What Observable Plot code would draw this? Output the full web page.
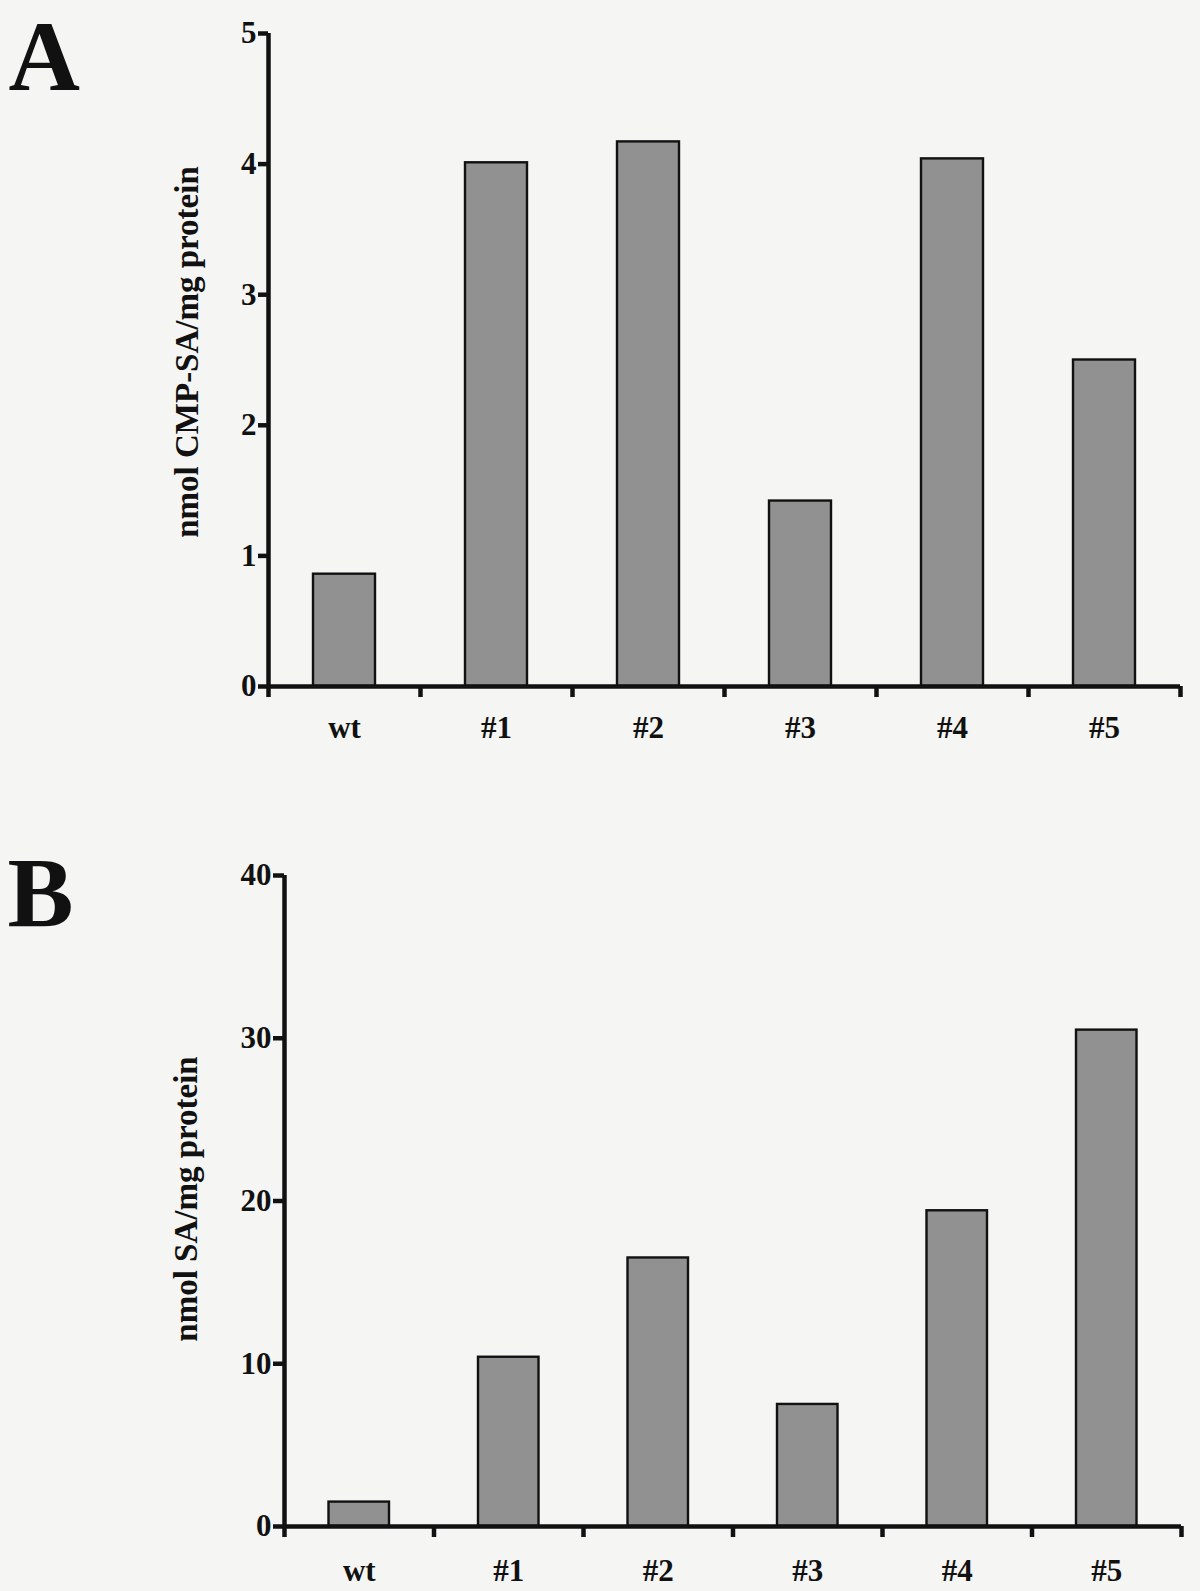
<!DOCTYPE html>
<html>
<head>
<meta charset="utf-8">
<script src="https://cdn.jsdelivr.net/npm/d3@7"></script>
<script src="https://cdn.jsdelivr.net/npm/@observablehq/plot@0.6"></script>
<style>
  html, body { margin: 0; padding: 0; background: #f5f5f3; }
  #page { position: relative; width: 1200px; height: 1591px; overflow: hidden; background: #f5f5f3; }
  #page > div { position: absolute; left: 0; }
  svg { background: transparent !important; }
</style>
</head>
<body>
<div id="page">
  <div id="panelA" style="top:0px"></div>
  <div id="panelB" style="top:800px"></div>
</div>
<script>
// ---- data ----
const categories = ["wt", "#1", "#2", "#3", "#4", "#5"];
const cmpSA = [0.86, 4.01, 4.17, 1.42, 4.04, 2.50];   // panel A, nmol CMP-SA/mg protein
const sa = [1.5, 10.4, 16.5, 7.5, 19.4, 30.5];        // panel B, nmol SA/mg protein
const yTicksA = [0, 1, 2, 3, 4, 5];
const yTicksB = [0, 10, 20, 30, 40];
const panelLabels = ["A", "B"];
const yLabelA = "nmol CMP-SA/mg protein";
const yLabelB = "nmol SA/mg protein";

const FONT = "'Liberation Serif', 'Times New Roman', serif";
const AXIS_W = 4.5;
const BAR_FILL = "#919191";

function panel({values, yTicks, yMax, letter, yLabel, height, marginTop, marginBottom, marginLeft, marginRight, inset, xLabelPad, yTickSize, yLabelDx, yLabelDy, letterDx, letterDy}) {
  const rows = categories.map((c, i) => ({cat: c, i, v: values[i]}));
  const bounds = d3.range(categories.length + 1);
  const centers = categories.map((c, i) => i + 0.5);
  return Plot.plot({
    width: 1200,
    height,
    marginTop, marginBottom, marginLeft, marginRight,
    style: {fontFamily: FONT, fontSize: "30px", fontWeight: "bold", color: "#111", background: "transparent", overflow: "visible"},
    x: {type: "linear", domain: [0, categories.length], axis: null},
    y: {domain: [0, yMax], axis: null},
    marks: [
      Plot.rectY(rows, {x1: "i", x2: d => d.i + 1, y1: 0, y2: "v", insetLeft: inset, insetRight: inset, fill: BAR_FILL, stroke: "#111", strokeWidth: 2.4}),
      Plot.ruleX([0], {stroke: "#111", strokeWidth: AXIS_W}),
      Plot.ruleY([0], {stroke: "#111", strokeWidth: AXIS_W}),
      Plot.axisY({ticks: yTicks, tickFormat: d3.format("d"), tickSize: yTickSize, tickPadding: 2, strokeWidth: AXIS_W, stroke: "#111", label: null, fontSize: 31, fontWeight: "bold", fill: "#111"}),
      Plot.axisX({ticks: bounds, tickSize: 11, tickFormat: () => "", strokeWidth: AXIS_W, stroke: "#111", label: null}),
      Plot.axisX({ticks: centers, tickSize: 0, tickPadding: xLabelPad, tickFormat: d => categories[Math.floor(d)], label: null, fontSize: 31, fontWeight: "bold", fill: "#111"}),
      Plot.text([yLabel], {text: d => d, frameAnchor: "left", rotate: -90, lineAnchor: "bottom", textAnchor: "middle", dx: yLabelDx, dy: yLabelDy, fontSize: 33, fontWeight: "bold", fill: "#111"}),
      Plot.text([letter], {text: d => d, frameAnchor: "top-left", textAnchor: "start", lineAnchor: "bottom", dx: letterDx, dy: letterDy, fontSize: 99, fontWeight: "bold", fill: "#111"})
    ]
  });
}

document.getElementById("panelA").appendChild(panel({
  values: cmpSA, yTicks: yTicksA, yMax: 5, letter: panelLabels[0], yLabel: yLabelA,
  height: 790, marginTop: 33, marginBottom: 104, marginLeft: 268, marginRight: 20,
  inset: 45, xLabelPad: 29, yTickSize: 10, yLabelDx: -71, yLabelDy: -8, letterDx: -260, letterDy: 56
}));

document.getElementById("panelB").appendChild(panel({
  values: sa, yTicks: yTicksB, yMax: 40, letter: panelLabels[1], yLabel: yLabelB,
  height: 791, marginTop: 75, marginBottom: 65, marginLeft: 284, marginRight: 19,
  inset: 44.5, xLabelPad: 32, yTickSize: 11, yLabelDx: -88, yLabelDy: -2, letterDx: -277, letterDy: 50
}));
</script>
</body>
</html>
